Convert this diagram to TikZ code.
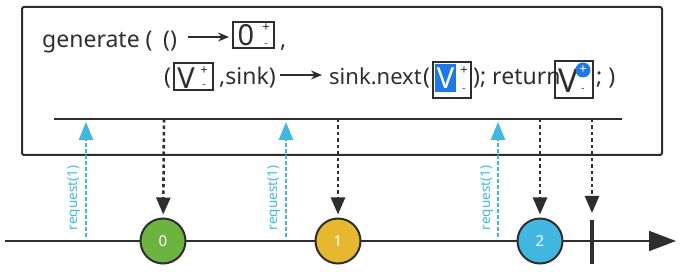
\documentclass[tikz,border=0pt]{standalone}
\usepackage{fontspec}
\setmainfont{Noto Sans}
\usetikzlibrary{arrows.meta}
\definecolor{ink}{HTML}{2E2E2E}
\definecolor{rgreen}{HTML}{6DB33F}
\definecolor{ryellow}{HTML}{E6B82F}
\definecolor{rblue}{HTML}{42B7DF}
\definecolor{vblue}{HTML}{1E78E6}
\begin{document}
\begin{tikzpicture}[x=1pt,y=-1pt,
  txt/.style={anchor=base west, inner sep=0pt, font=\fontsize{23}{23}\selectfont, text=ink},
  big/.style={anchor=base, inner sep=0pt, font=\fontsize{29}{29}\selectfont, text=ink},
  plus/.style={inner sep=0pt, font=\fontsize{13}{13}\selectfont, text=ink},
  minus/.style={inner sep=0pt, font=\fontsize{10}{10}\selectfont, text=ink},
  valbox/.style={draw=ink, line width=1.6pt},
  marble/.style={circle, draw=ink, line width=2pt, minimum size=45pt, inner sep=0pt, text=white, font=\fontsize{15}{15}\selectfont},
  emit/.style={draw=ink, line width=2.6pt, dash pattern=on 3.5pt off 3pt, -{Triangle[length=17pt,width=14pt]}, shorten >=3pt},
  req/.style={draw=rblue, line width=2.6pt, dash pattern=on 3.5pt off 2.5pt, -{Triangle[length=18pt,width=14pt]}},
  reqlbl/.style={rotate=90, inner sep=0pt, text=rblue, font=\fontsize{13.5}{13.5}\selectfont},
  fnarrow/.style={draw=ink, line width=1.3pt, -{Stealth[length=11pt,width=9pt]}}
]
\useasboundingbox (0,0) rectangle (681,272);
% frame
\draw[ink, line width=2pt, rounded corners=2pt] (22,7) rectangle (662,155);
% line 1
\node[txt] (gen) at (42,48) {generate (};
\node[txt] (unit) at (163,48) {()};
\coordinate (a1s) at (188,37);
\coordinate (a1e) at (229,37);
\draw[fnarrow] (a1s) -- (a1e);
\draw[valbox] (233,22) rectangle (274,48);
\node[big] (zero) at (246,46) {0};
\node[plus] (zp) at (266,28) {+};
\node[minus] (zm) at (266,45) {-};
\node[txt] (comma) at (280,48) {,};
% line 2
\node[txt] (lp) at (164,85) {(};
\draw[valbox] (174,63) rectangle (213,90);
\node[big] (v1) at (186,89) {V};
\node[plus] (v1p) at (204,71) {+};
\node[minus] (v1m) at (204,86) {-};
\node[txt] (sink) at (219,85) {,sink)};
\coordinate (a2s) at (280,75);
\coordinate (a2e) at (322,75);
\draw[fnarrow] (a2s) -- (a2e);
\node[txt, font=\fontsize{22}{22}\selectfont] (next) at (329,85) {sink.next};
\node[txt] (lp2) at (423,85) {(};
\draw[valbox] (433,62) rectangle (471,98);
\fill[vblue] (435,64) rectangle (456,92);
\node[big, text=white] (v2) at (445.5,89) {V};
\node[plus] (v2p) at (464,71) {+};
\node[minus] (v2m) at (464,90) {-};
\node[txt] (ret) at (473,85) {); return};
\draw[valbox] (555,61) rectangle (593,98);
\node[big, font=\fontsize{33}{33}\selectfont\bfseries] (v3) at (568,93) {V};
\node[circle, fill=vblue, minimum size=15pt, inner sep=0pt, text=white, font=\fontsize{13}{13}\selectfont\bfseries] (v3p) at (583,70) {+};
\node[minus] (v3m) at (583,90) {-};
\node[txt] (end) at (596,85) {; )};
% inner line
\coordinate (il0) at (54,119);
\coordinate (il1) at (622,119);
\draw[ink, line width=2pt] (il0) -- (il1);
% timeline
\coordinate (tl0) at (5,241);
\coordinate (tl1) at (676,241);
\draw[ink, line width=2pt, -{Triangle[length=27pt,width=20pt]}] (tl0) -- (tl1);
% complete bar
\coordinate (cb0) at (592,220);
\coordinate (cb1) at (592,264);
\draw[ink, line width=3.5pt] (cb0) -- (cb1);
% marbles
\node[marble, fill=rgreen] (c0) at (163,241) {0};
\node[marble, fill=ryellow] (c1) at (338,241) {1};
\node[marble, fill=rblue] (c2) at (540,241) {2};
% emit arrows
\coordinate (e0) at (164,119);
\coordinate (e1) at (338,119);
\coordinate (e2) at (540,119);
\coordinate (e3) at (592,119);
\coordinate (e3t) at (592,213);
\draw[emit] (e0) -- (c0);
\draw[emit] (e1) -- (c1);
\draw[emit] (e2) -- (c2);
\draw[emit, shorten >=0pt] (e3) -- (e3t);
% requests
\coordinate (r0s) at (86,237); \coordinate (r0e) at (86,122);
\coordinate (r1s) at (286,237); \coordinate (r1e) at (286,122);
\coordinate (r2s) at (498,237); \coordinate (r2e) at (498,122);
\draw[req] (r0s) -- (r0e);
\draw[req] (r1s) -- (r1e);
\draw[req] (r2s) -- (r2e);
\node[reqlbl] (l0) at (74,198) {request(1)};
\node[reqlbl] (l1) at (274,198) {request(1)};
\node[reqlbl] (l2) at (487,198) {request(1)};
\end{tikzpicture}
\end{document}
